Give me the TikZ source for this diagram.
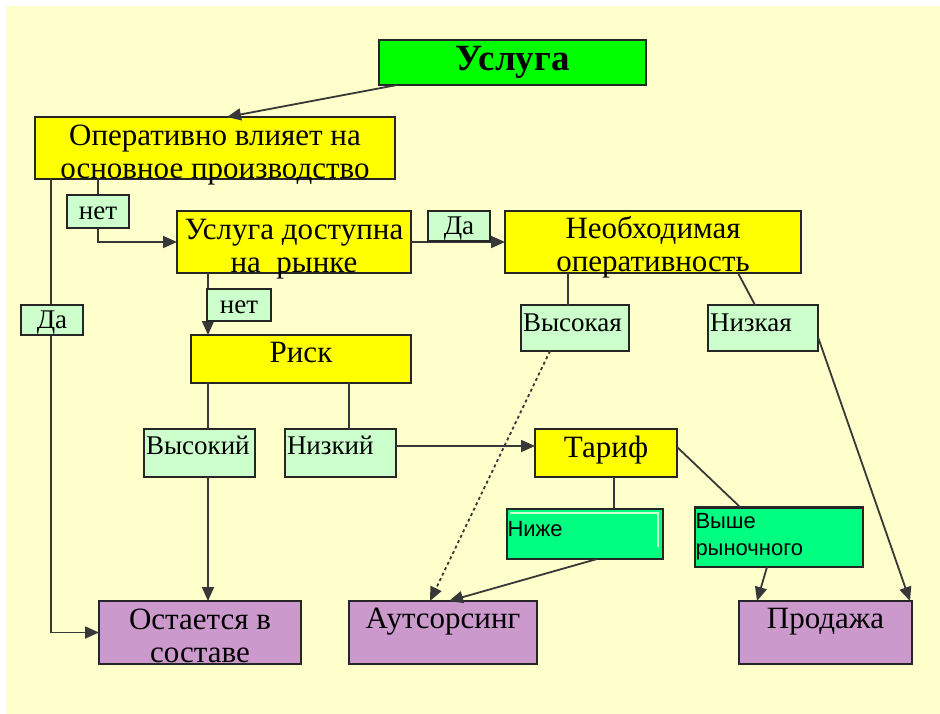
\documentclass[tikz,border=0pt]{standalone}
\usepackage{fontspec}
\setmainfont{Liberation Serif}
\newfontfamily\arialf{Liberation Sans}
\usetikzlibrary{arrows.meta}
\definecolor{cream}{HTML}{FFFFCC}
\definecolor{yel}{HTML}{FFFF00}
\definecolor{lgr}{HTML}{CCFFCC}
\definecolor{pur}{HTML}{CC99CC}
\definecolor{sgr}{HTML}{00FF80}
\definecolor{tgr}{HTML}{00FF00}
\definecolor{bord}{HTML}{262626}
\definecolor{conn}{HTML}{383838}
\newcommand\twoln[2]{\raisebox{#1}[0pt][0pt]{\begin{tabular}{@{}c@{}}#2\end{tabular}}}
\begin{document}
\begin{tikzpicture}[x=1pt,y=-1pt,
  sz/.style 2 args={minimum width=#1pt, minimum height=#2pt},
  th/.style 2 args={text height=#1pt, text depth=#2pt},
  bx/.style={draw=bord, line width=1.3pt, inner sep=0pt, outer sep=0pt, align=center},
  main/.style={bx, fill=yel, font=\fontsize{31}{33}\selectfont},
  lab/.style={bx, fill=lgr, font=\fontsize{27}{30}\selectfont},
  res/.style={bx, fill=pur, font=\fontsize{31}{33}\selectfont},
  grn/.style={bx, fill=sgr, font=\arialf\fontsize{22}{27}\selectfont, align=left},
  con/.style={draw=conn, line width=1.8pt},
  arr/.style={con, -{Triangle[length=14pt,width=12pt]}},
]
\fill[white] (0,0) rectangle (940,714);
\fill[cream] (6,6) rectangle (940,714);
\useasboundingbox (0,0) rectangle (940,714);

% main boxes
\node[bx, fill=tgr, sz={267}{45}, th={31}{14}, font=\bfseries\fontsize{37}{40}\selectfont] (usl) at (512.5,62.5) {Услуга};
\node[main, sz={360}{62}] (op) at (215,148) {\twoln{-13.5pt}{Оперативно влияет на\\основное производство}};
\node[main, sz={234}{62}] (dost) at (294,242) {\twoln{-13.5pt}{Услуга доступна\\на\ \ рынке}};
\node[main, sz={296}{62}] (neob) at (653,242) {\twoln{-12.5pt}{Необходимая\\оперативность}};
\node[main, sz={220}{48}, th={27}{21}] (risk) at (301,359) {Риск};
\node[main, sz={142}{48}, th={28}{20}] (tarif) at (606,453) {Тариф};

\node[lab, sz={108}{46}, th={26}{20}, text width=104pt, align=left] (vsk) at (575,328) {Высокая};
\node[lab, sz={110}{46}, th={26}{20}, text width=106pt, align=left] (nzk) at (763,328) {Низкая};
\node[lab, sz={111}{48}, th={25}{23}, text width=107pt, align=left] (vskj) at (199.5,453) {Высокий};
\node[lab, sz={111}{48}, th={25}{23}, text width=107pt, align=left] (nzkj) at (340.5,453) {Низкий};

\node[grn, sz={156}{50}, text width=155pt, th={27}{23}] (nizhe) at (585,534) {Ниже};
\draw[lgr, line width=2pt] ([shift={(3pt,-4pt)}]nizhe.north west) -- ([shift={(-5pt,-4pt)}]nizhe.north east) -- ([shift={(-5pt,12pt)}]nizhe.south east);
\node[grn, sz={168}{60}, text width=167pt] (vyshe) at (779,537) {Выше\\рыночного};
\draw[bord, line width=3pt] (vyshe.north west) -- (vyshe.north east);

\node[res, sz={202}{63}] (ost) at (200,632.5) {\twoln{-13pt}{Остается в\\составе}};
\node[res, sz={188}{63}, th={27}{36}] (auts) at (443,632.5) {Аутсорсинг};
\node[res, sz={173}{63}, th={27}{36}] (prod) at (825.5,632.5) {Продажа};

% connectors
\draw[arr] ([xshift=18pt]usl.south west) -- ([xshift=192pt]op.north west);
\draw[arr] ([xshift=63pt]op.south west) |- (dost.west);
\draw[arr] ([xshift=16pt]op.south west) |- (ost.west);
\draw[arr] (dost.east) -- (neob.west);
\draw[arr] ([xshift=31pt]dost.south west) -- ([xshift=17pt]risk.north west);
\draw[con] ([xshift=63pt]neob.south west) -- ([xshift=47pt]vsk.north west);
\draw[con] ([xshift=233pt]neob.south west) -- ([xshift=47pt]nzk.north west);
\draw[arr, dashed] ([xshift=29pt]vsk.south west) -- ([xshift=81pt]auts.north west);
\draw[arr] ([yshift=14pt]nzk.south east) -- ([xshift=-2pt]prod.north east);
\draw[con] ([xshift=17pt]risk.south west) -- ([xshift=64pt]vskj.north west);
\draw[arr] ([xshift=64pt]vskj.south west) -- ([xshift=109pt]ost.north west);
\draw[con] ([xshift=158pt]risk.south west) -- ([xshift=64pt]nzkj.north west);
\draw[arr] ([yshift=7pt]nzkj.east) -- ([yshift=7pt]tarif.west);
\draw[con] ([xshift=79pt]tarif.south west) -- ([xshift=107pt]nizhe.north west);
\draw[con] ([yshift=6pt]tarif.east) -- ([xshift=45pt]vyshe.north west);
\draw[arr] ([xshift=90pt]nizhe.south west) -- ([xshift=100pt]auts.north west);
\draw[arr] ([xshift=72pt]vyshe.south west) -- ([xshift=18pt]prod.north west);

% branch labels
\node[lab, sz={62}{33}, th={25}{8}] (net1) at (98,211.5) {нет};
\node[lab, sz={62}{30}, th={24}{6}] (da1) at (459,226) {Да};
\node[lab, sz={62}{30}, th={23}{7}] (da2) at (52,320) {Да};
\node[lab, sz={64}{32}, th={24}{8}] (net2) at (239,305) {нет};
\end{tikzpicture}
\end{document}
